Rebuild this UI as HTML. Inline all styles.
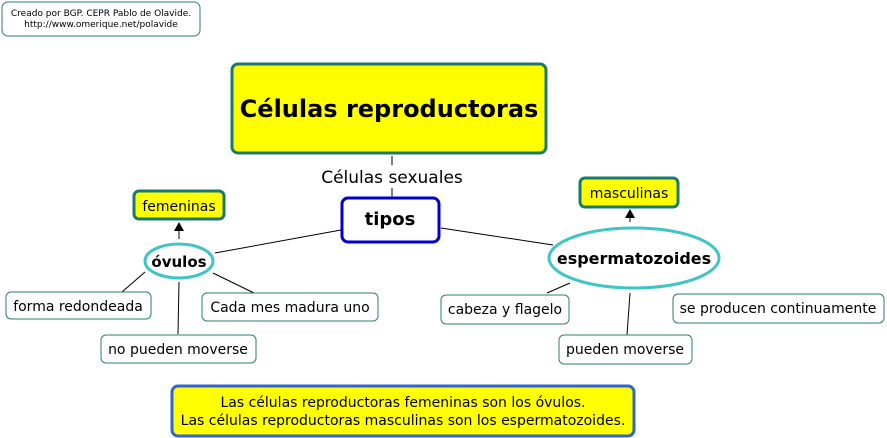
<!DOCTYPE html>
<html><head><meta charset="utf-8"><style>html,body{margin:0;padding:0;background:#fff}svg{display:block}text{font-family:"DejaVu Sans","Liberation Sans",sans-serif;fill:#000}</style></head><body>
<svg width="887" height="438" viewBox="0 0 887 438" xmlns="http://www.w3.org/2000/svg">
<rect x="2" y="2" width="198" height="34" rx="6" fill="#fff" stroke="#2e7d6a" stroke-width="1"/>
<text x="101" y="16" font-size="9" text-anchor="middle">Creado por BGP. CEPR Pablo de Olavide.</text>
<text x="101" y="27" font-size="9" text-anchor="middle">http://www.omerique.net/polavide</text>

<g stroke="#000" stroke-width="1" fill="none">
<line x1="392" y1="156" x2="392" y2="165"/>
<line x1="392" y1="188" x2="392" y2="197"/>
<line x1="341" y1="230" x2="215" y2="253"/>
<line x1="441" y1="228" x2="553" y2="245"/>
<line x1="145" y1="272" x2="122" y2="292"/>
<line x1="179" y1="282" x2="178" y2="334"/>
<line x1="213" y1="273" x2="254" y2="293"/>
<line x1="547" y1="293" x2="570" y2="283"/>
<line x1="630" y1="293" x2="627" y2="335"/>
<line x1="179" y1="239" x2="179" y2="230"/>
<line x1="630" y1="222" x2="630" y2="216"/>
</g>
<polygon points="174,231 184,231 179,222" fill="#000"/>
<polygon points="625,218 635,218 630,209" fill="#000"/>

<rect x="232" y="64" width="314" height="89" rx="6" fill="#ffff00" stroke="#1a7a6a" stroke-width="3"/>
<text x="389" y="117" font-size="24" font-weight="bold" text-anchor="middle">Células reproductoras</text>
<text x="392" y="183" font-size="17" text-anchor="middle">Células sexuales</text>

<rect x="342" y="198" width="97" height="44" rx="6" fill="#fff" stroke="#0000cc" stroke-width="3"/>
<text x="390" y="225" font-size="18" font-weight="bold" text-anchor="middle">tipos</text>

<rect x="134" y="191" width="90" height="28" rx="5" fill="#ffff00" stroke="#1a7a6a" stroke-width="3"/>
<text x="179" y="211" font-size="14" text-anchor="middle">femeninas</text>
<rect x="580" y="178" width="98" height="29" rx="5" fill="#ffff00" stroke="#1a7a6a" stroke-width="3"/>
<text x="629" y="198" font-size="14" text-anchor="middle">masculinas</text>

<ellipse cx="179" cy="261" rx="34" ry="17" fill="#fff" stroke="#40c4c4" stroke-width="3"/>
<text x="179" y="267" font-size="15" font-weight="bold" text-anchor="middle">óvulos</text>
<ellipse cx="634" cy="258" rx="85" ry="30" fill="#fff" stroke="#40c4c4" stroke-width="3"/>
<text x="634" y="264" font-size="16" font-weight="bold" text-anchor="middle">espermatozoides</text>

<g fill="#fff" stroke="#2e7d6a" stroke-width="1">
<rect x="6" y="292" width="145" height="27" rx="5"/>
<rect x="202" y="293" width="176" height="28" rx="5"/>
<rect x="101" y="335" width="155" height="28" rx="5"/>
<rect x="441" y="295" width="128" height="29" rx="5"/>
<rect x="559" y="335" width="133" height="29" rx="5"/>
<rect x="673" y="294" width="211" height="29" rx="5"/>
</g>
<g font-size="14" text-anchor="middle">
<text x="78" y="311">forma redondeada</text>
<text x="290" y="312">Cada mes madura uno</text>
<text x="178" y="354">no pueden moverse</text>
<text x="505" y="314">cabeza y flagelo</text>
<text x="625" y="354">pueden moverse</text>
<text x="778" y="313">se producen continuamente</text>
</g>

<rect x="172" y="386" width="462" height="50" rx="6" fill="#ffff00" stroke="#3366cc" stroke-width="3"/>
<text x="403" y="407" font-size="14" text-anchor="middle">Las células reproductoras femeninas son los óvulos.</text>
<text x="403" y="425" font-size="14" text-anchor="middle">Las células reproductoras masculinas son los espermatozoides.</text>
</svg>
</body></html>
